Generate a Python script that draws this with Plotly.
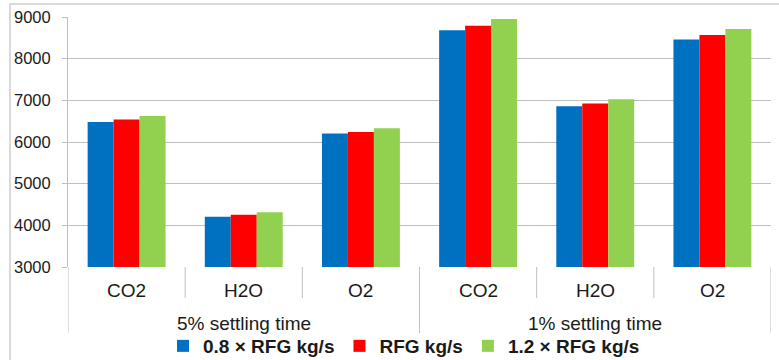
import plotly.graph_objects as go

categories = ["CO2", "H2O", "O2", "CO2", "H2O", "O2"]
groups = ["5% settling time", "1% settling time"]
series_names = ["0.8 × RFG kg/s", "RFG kg/s", "1.2 × RFG kg/s"]
low_rfg = [6480, 4205, 6205, 8680, 6860, 8460]
base_rfg = [6540, 4252, 6242, 8793, 6923, 8568]
high_rfg = [6626, 4315, 6331, 8955, 7026, 8712]
colors = ["#0070C0", "#FF0000", "#92D050"]
y_ticks = [3000, 4000, 5000, 6000, 7000, 8000, 9000]

FONT = "Liberation Sans, Arial, sans-serif"
xpos = list(range(len(categories)))

fig = go.Figure()
for name, vals, col in zip(series_names, [low_rfg, base_rfg, high_rfg], colors):
    fig.add_trace(go.Bar(x=xpos, y=vals, name=name, marker=dict(color=col, line=dict(width=0))))

W, H = 779, 360
ml, mr, mt, mb = 68, 8, 17, 93
ph = H - mt - mb

def py(pix):
    return (H - mb - pix) / ph

shapes = []
# outer light border
shapes.append(dict(type="rect", xref="paper", yref="paper",
                   x0=(10 - ml) / (W - ml - mr), x1=(W + 20 - ml) / (W - ml - mr),
                   y0=py(H + 20), y1=py(4), line=dict(color="#d9d9d9", width=2)))
# inner category dividers
for b in [0.5, 1.5, 3.5, 4.5]:
    shapes.append(dict(type="line", xref="x", yref="paper", x0=b, x1=b, y0=0, y1=py(298),
                       line=dict(color="#bfbfbf", width=1)))
# group dividers
for b in [-0.5, 2.5, 5.5]:
    shapes.append(dict(type="line", xref="x", yref="paper", x0=b, x1=b, y0=0, y1=py(333),
                       line=dict(color="#bfbfbf", width=1)))

annotations = []
for i, c in enumerate(categories):
    annotations.append(dict(x=i, y=py(290), xref="x", yref="paper", text=c, showarrow=False,
                            xanchor="center", yanchor="middle", font=dict(family=FONT, size=19, color="#1a1a1a")))
for gi, g in enumerate(groups):
    annotations.append(dict(x=1 + 3 * gi, y=py(323), xref="x", yref="paper", text=g, showarrow=False,
                            xanchor="center", yanchor="middle", font=dict(family=FONT, size=19, color="#1a1a1a")))

fig.update_layout(
    width=W, height=H,
    margin=dict(l=ml, r=mr, t=mt, b=mb, autoexpand=False),
    paper_bgcolor="white", plot_bgcolor="white",
    barmode="group", bargap=0.335, bargroupgap=0,
    font=dict(family=FONT, size=16, color="#1a1a1a"),
    shapes=shapes, annotations=annotations,
    xaxis=dict(range=[-0.5, 5.5], tickvals=xpos, showticklabels=False, ticks="",
               showgrid=False, zeroline=False, showline=False, fixedrange=True),
    yaxis=dict(range=[3000, 9000], tickvals=y_ticks, ticks="outside", ticklen=5, tickcolor="#bfbfbf",
               showgrid=True, gridcolor="#bfbfbf", gridwidth=1, zeroline=False,
               showline=True, linecolor="#bfbfbf", linewidth=1, ticklabelstandoff=8,
               tickfont=dict(family=FONT, size=16.5, color="#1a1a1a")),
    legend=dict(orientation="h", x=(404 - ml) / (W - ml - mr), xanchor="center",
                y=py(346), yanchor="middle",
                font=dict(family=FONT, size=19, color="#1a1a1a", weight="bold"),
                itemwidth=30, tracegroupgap=0, bgcolor="rgba(0,0,0,0)"),
    showlegend=True,
)

fig.write_html("out.html")
